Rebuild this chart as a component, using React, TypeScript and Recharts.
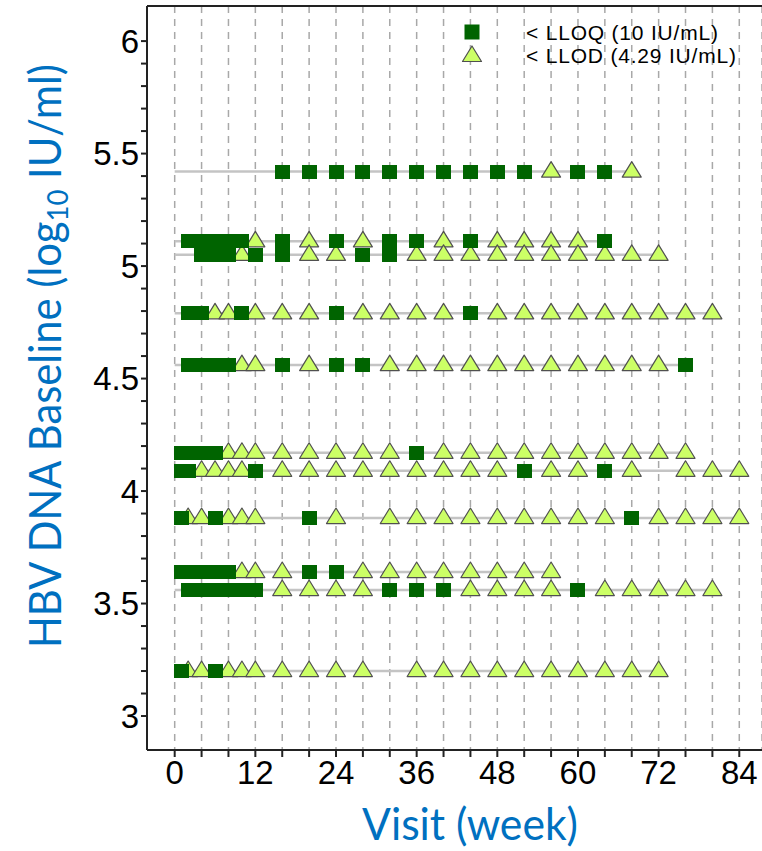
import { CartesianGrid, Label, Legend, ReferenceLine, Scatter, ScatterChart, XAxis, YAxis } from "recharts";

// baseline HBV DNA (log10 IU/ml) per subject, top to bottom
const baselines = [5.42, 5.11, 5.05, 4.79, 4.56, 4.17, 4.09, 3.88, 3.64, 3.56, 3.2];
// last visit week per subject
const lastVisits = [68, 64, 72, 80, 76, 76, 84, 84, 56, 80, 72];

// visits with HBV DNA < LLOQ (10 IU/mL)
const lloqWeeks = [
  [16, 20, 24, 28, 32, 36, 40, 44, 48, 52, 60, 64],
  [2, 4, 6, 8, 10, 16, 24, 32, 36, 44, 64],
  [4, 6, 8, 12, 16, 28, 32],
  [2, 4, 10, 24, 44],
  [2, 4, 6, 8, 16, 24, 28, 76],
  [1, 2, 4, 6, 36],
  [1, 2, 12, 52, 64],
  [1, 6, 20, 68],
  [1, 2, 4, 6, 8, 20, 24],
  [2, 4, 6, 8, 10, 12, 32, 36, 40, 60],
  [1, 6],
];

// visits with HBV DNA < LLOD (4.29 IU/mL)
const llodWeeks = [
  [56, 68],
  [12, 20, 28, 40, 48, 52, 56, 60],
  [10, 20, 24, 36, 40, 44, 48, 52, 56, 60, 64, 68, 72],
  [6, 8, 12, 16, 20, 28, 32, 36, 40, 48, 52, 56, 60, 64, 68, 72, 76, 80],
  [10, 12, 20, 32, 36, 40, 44, 48, 52, 56, 60, 64, 68, 72],
  [8, 10, 12, 16, 20, 24, 28, 32, 40, 44, 48, 52, 56, 60, 64, 68, 72, 76],
  [4, 6, 8, 10, 16, 20, 24, 28, 32, 36, 40, 44, 48, 56, 60, 68, 76, 80, 84],
  [2, 4, 8, 10, 12, 24, 32, 36, 40, 44, 48, 52, 56, 60, 64, 72, 76, 80, 84],
  [10, 12, 16, 28, 32, 36, 40, 44, 48, 52, 56],
  [16, 20, 24, 28, 44, 48, 52, 56, 64, 68, 72, 76, 80],
  [2, 4, 8, 10, 12, 16, 20, 24, 28, 36, 40, 44, 48, 52, 56, 60, 64, 68, 72],
];

const weekTicks = [0, 4, 8, 12, 16, 20, 24, 28, 32, 36, 40, 44, 48, 52, 56, 60, 64, 68, 72, 76, 80, 84];
const weekLabels = [0, 12, 24, 36, 48, 60, 72, 84];
const yLabels = [3, 3.5, 4, 4.5, 5, 5.5, 6];
const yTicks = Array.from({ length: 31 }, (_, i) => Math.round((3 + i * 0.1) * 10) / 10);

const X_DOMAIN: [number, number] = [-4.12, 87.38];
const Y_DOMAIN: [number, number] = [2.849, 6.156];

const squares = lloqWeeks.flatMap((ws, i) => ws.map((w) => ({ week: w, value: baselines[i] })));
const triangles = llodWeeks.flatMap((ws, i) => ws.map((w) => ({ week: w, value: baselines[i] })));
const subjectLines = baselines.map((b, i) => [
  { week: 0, value: b },
  { week: lastVisits[i], value: b },
]);

const TICK_FONT = "'Liberation Sans', Arial, sans-serif";
const TITLE_FONT = "Lato, 'Open Sans', sans-serif";
const BLUE = "#0070c0";

const Square = ({ cx, cy }: any) => (
  <rect
    x={cx - 7.5}
    y={cy - 7}
    width={15}
    height={14}
    fill="#006400"
    stroke="none"
    shapeRendering="crispEdges"
  />
);

const Triangle = ({ cx, cy }: any) => (
  <path
    d={`M${cx},${cy - 10}L${cx + 9.5},${cy + 5.5}L${cx - 9.5},${cy + 5.5}Z`}
    fill="#ccff66"
    stroke="#505050"
    strokeWidth={1.2}
    strokeLinejoin="round"
  />
);

const Nothing = () => <g />;

const XTick = ({ x, y, payload }: any) =>
  weekLabels.includes(payload.value) ? (
    <text x={x} y={y} dy="0.71em" textAnchor="middle" fontFamily={TICK_FONT} fontSize={33} fill="#000">
      {payload.value}
    </text>
  ) : (
    <g />
  );

const YTick = ({ x, y, payload }: any) =>
  yLabels.some((v) => Math.abs(v - payload.value) < 1e-6) ? (
    <text x={x} y={y} dy="0.36em" textAnchor="end" fontFamily={TICK_FONT} fontSize={33} fill="#000">
      {payload.value}
    </text>
  ) : (
    <g />
  );

const LegendBox = () => (
  <svg width={300} height={60} style={{ display: "block" }}>
    <rect x={14.5} y={6.5} width={15} height={15} fill="#006400" />
    <path d="M22,28L31.5,43.5L12.5,43.5Z" fill="#ccff66" stroke="#505050" strokeWidth={1.2} strokeLinejoin="round" />
    <text x={76} y={14.5} dominantBaseline="central" fontFamily={TICK_FONT} fontSize={21} letterSpacing={0.8} fill="#000">
      {"< LLOQ (10 IU/mL)"}
    </text>
    <text x={76} y={37} dominantBaseline="central" fontFamily={TICK_FONT} fontSize={21} letterSpacing={0.8} fill="#000">
      {"< LLOD (4.29 IU/mL)"}
    </text>
  </svg>
);

export default function App() {
  return (
    <div style={{ position: "absolute", left: 0, top: 0, width: 762, height: 851, background: "#fff" }}>
      <ScatterChart width={762} height={851} margin={{ top: 6, right: 0, bottom: 0, left: 0 }}>
        <CartesianGrid horizontal={false} strokeDasharray="7 6" stroke="#a8a8a8" strokeWidth={1.5} />
        <XAxis
          type="number"
          dataKey="week"
          domain={X_DOMAIN}
          ticks={weekTicks}
          interval={0}
          allowDataOverflow
          height={101}
          tickSize={7}
          tickMargin={4}
          tick={<XTick />}
          axisLine={{ stroke: "#222", strokeWidth: 2 }}
          tickLine={{ stroke: "#222", strokeWidth: 2 }}
        >
          <Label
            content={() => (
              <text x={470} y={840} textAnchor="middle" fontFamily={TITLE_FONT} fontSize={44} fill={BLUE} textLength={216} lengthAdjust="spacingAndGlyphs">
                Visit (week)
              </text>
            )}
          />
        </XAxis>
        <YAxis
          type="number"
          dataKey="value"
          domain={Y_DOMAIN}
          ticks={yTicks}
          interval={0}
          allowDataOverflow
          width={147}
          tickSize={6}
          tickMargin={2}
          tick={<YTick />}
          axisLine={{ stroke: "#222", strokeWidth: 2 }}
          tickLine={{ stroke: "#222", strokeWidth: 2 }}
        >
          <Label
            content={() => (
              <text
                x={61}
                y={356}
                transform="rotate(-90, 61, 356)"
                textAnchor="middle"
                fontFamily={TITLE_FONT}
                fontSize={44}
                fill={BLUE}
                textLength={584}
                lengthAdjust="spacingAndGlyphs"
              >
                HBV DNA Baseline (log
                <tspan fontSize={29} dy={7}>10</tspan>
                <tspan dy={-7}> IU/ml)</tspan>
              </text>
            )}
          />
        </YAxis>
        <ReferenceLine y={Y_DOMAIN[1]} stroke="#222" strokeWidth={2} ifOverflow="extendDomain" />
        {subjectLines.map((pts, i) => (
          <Scatter
            key={`line-${i}`}
            data={pts}
            line={{ stroke: "#c4c4c4", strokeWidth: 2.5 }}
            shape={<Nothing />}
            legendType="none"
            isAnimationActive={false}
          />
        ))}
        <Scatter name="< LLOD (4.29 IU/mL)" data={triangles} shape={<Triangle />} isAnimationActive={false} />
        <Scatter name="< LLOQ (10 IU/mL)" data={squares} shape={<Square />} isAnimationActive={false} />
        <Legend
          layout="horizontal"
          verticalAlign="middle"
          align="center"
          content={<LegendBox />}
          wrapperStyle={{ position: "absolute", left: 450, top: 18, width: 300, height: 60 }}
        />
      </ScatterChart>
    </div>
  );
}
